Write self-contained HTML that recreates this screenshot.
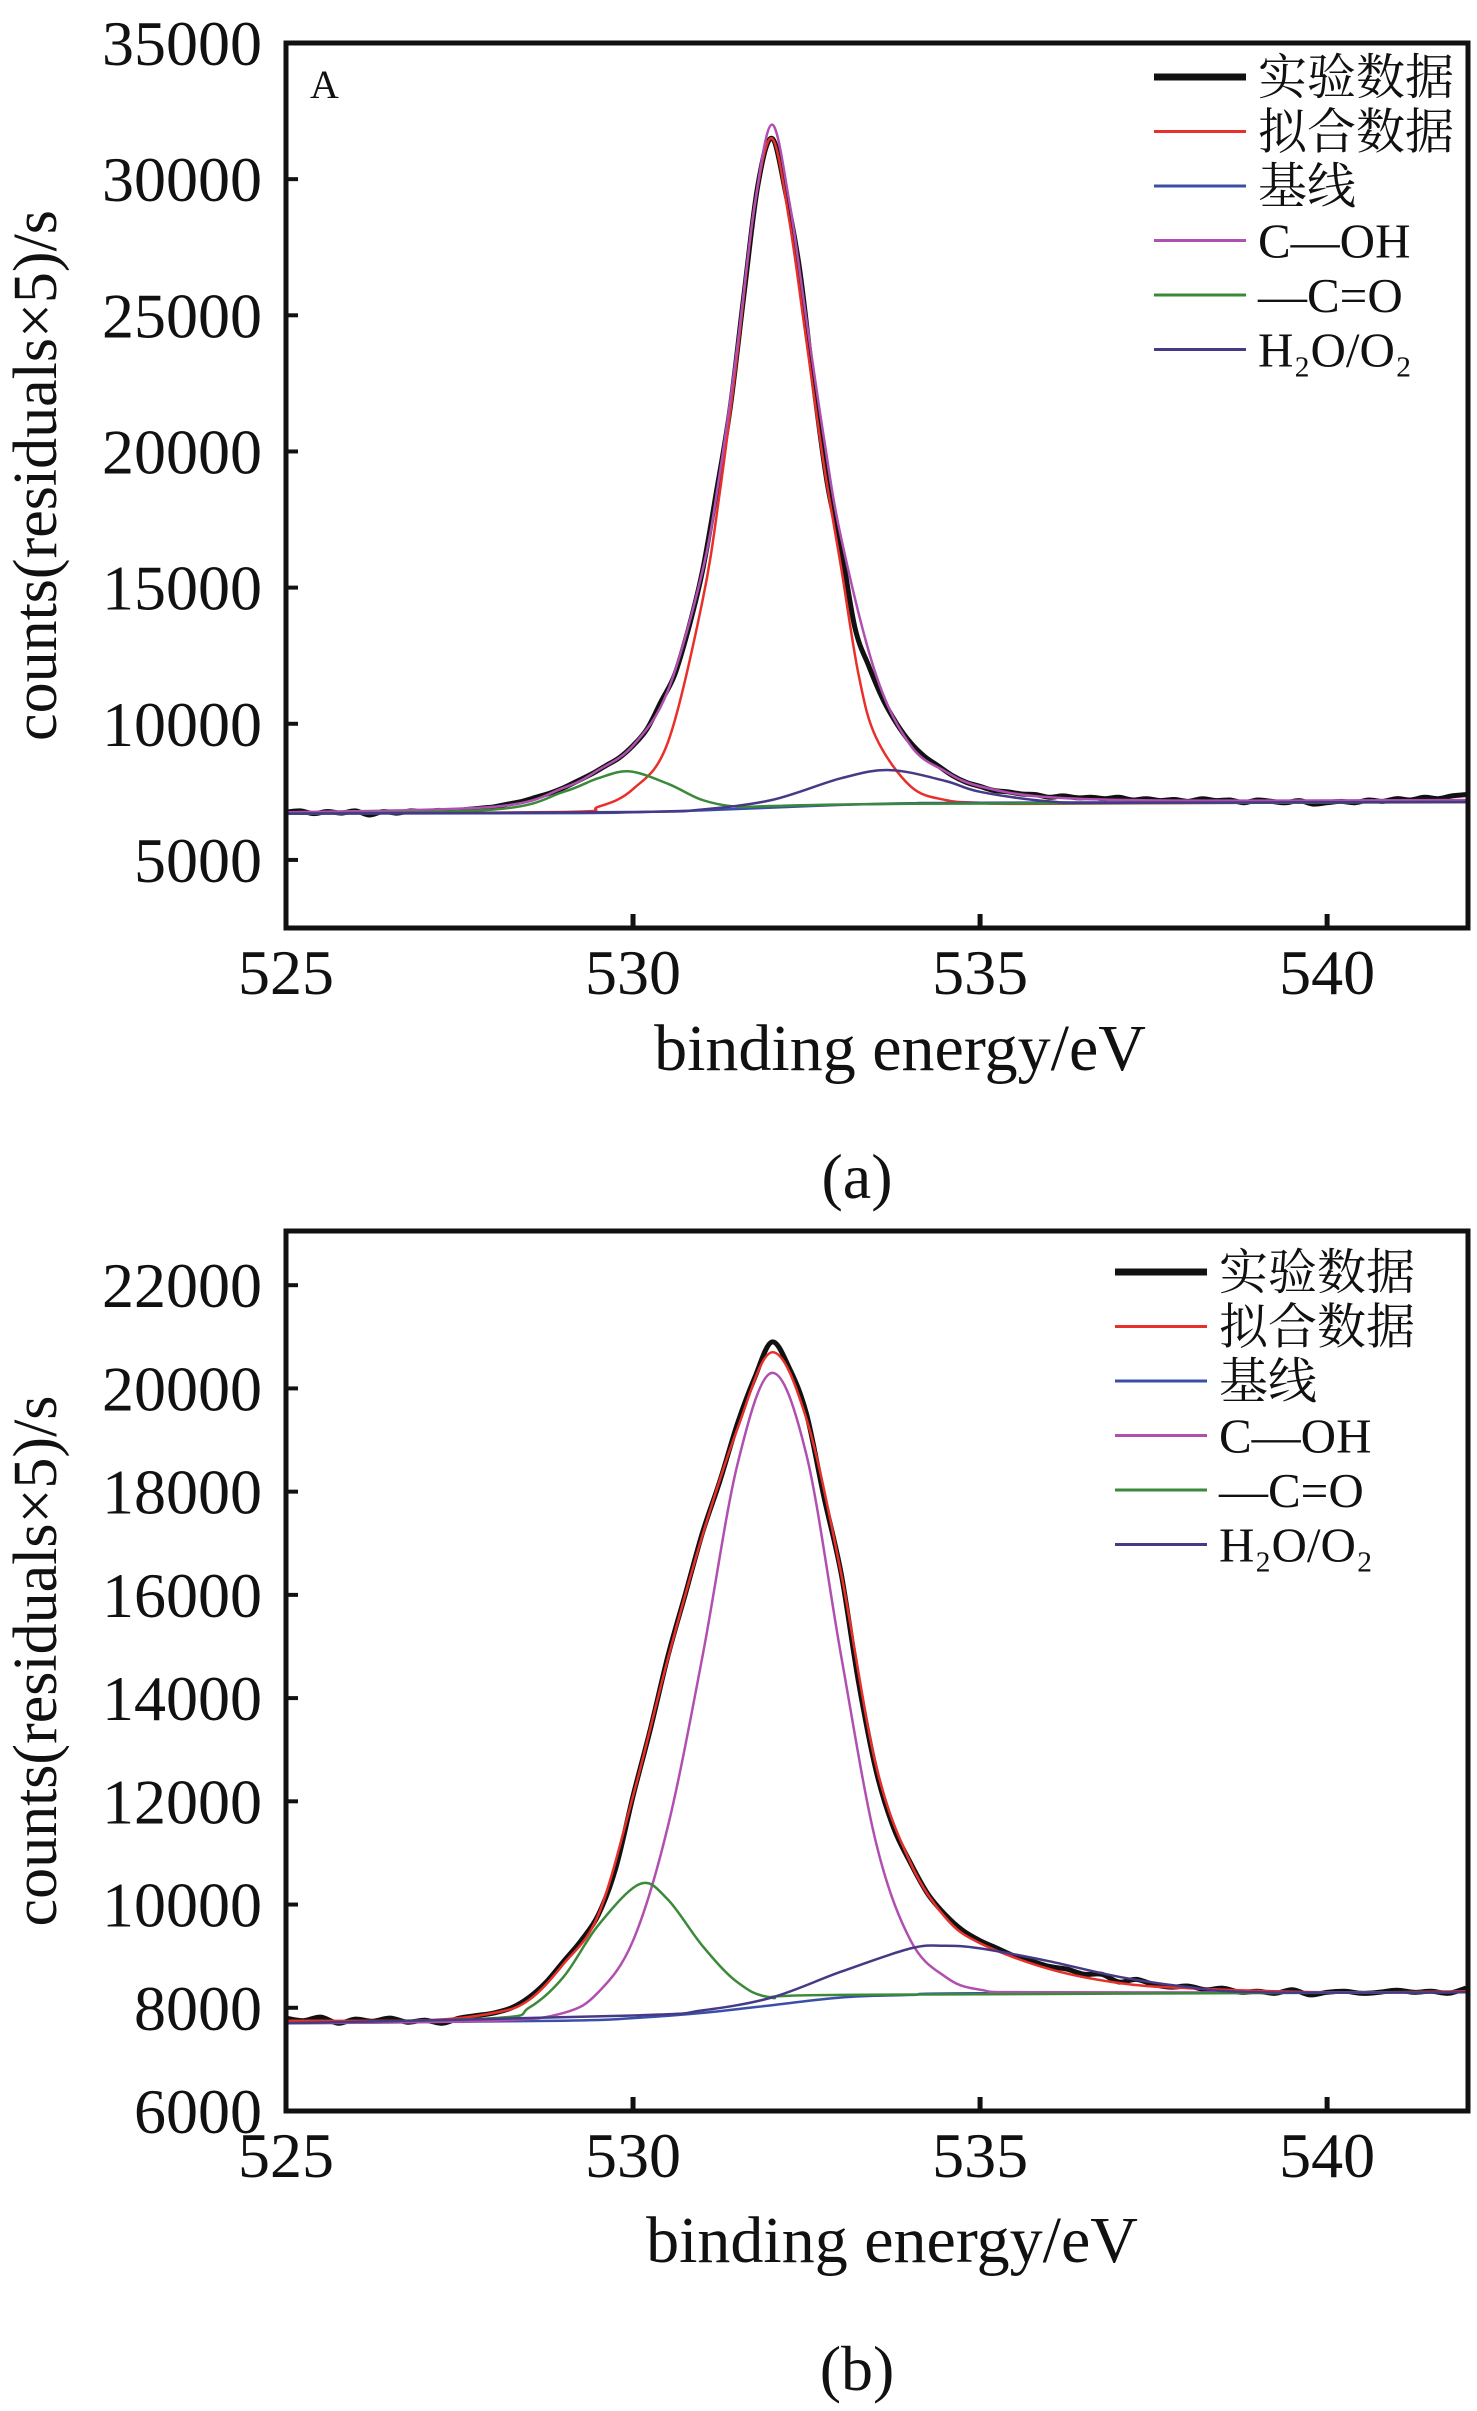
<!DOCTYPE html>
<html><head><meta charset="utf-8"><style>
html,body{margin:0;padding:0;background:#fff}
svg{display:block}
text{font-family:"Liberation Serif","Noto Serif CJK SC",serif;fill:#111}
</style></head><body>
<svg id="fig" width="1477" height="2411" viewBox="0 0 1477 2411" xmlns="http://www.w3.org/2000/svg"></svg>
<script>
// ---------- Chart A data ----------
const aExpStart = 525, aExpStep = 0.2;
const aExp = [6750,6800,6700,6780,6720,6800,6650,6780,6720,6800,6760,6820,6780,6850,6900,
  6950,7050,7150,7300,7450,7650,7900,8150,8450,8750,9200,9800,10800,11800,13500,15600,18500,21600,25800,29800,31500,29500,26700,22500,18800,16400,13500,12100,10900,10000,9300,8800,8450,8100,7850,7700,
  7550,7500,7420,7400,7300,
  7350,7280,7300,7250,7300,7200,7250,7180,7220,7150,7250,7180,7200,7100,7200,7150,7100,7180,7050,7100,7150,7100,7200,7150,7250,7200,7300,7250,7350,7400];
const aFitE = [525,529,529.5,530,530.5,531,531.25,531.5,531.75,532,532.25,532.5,532.75,533,533.25,533.5,534,534.5,535,536,542];
const aFitV = [6700,6760,6950,7600,9300,14500,18500,23500,29000,31500,28500,24000,19500,15700,11800,9500,7700,7200,7100,7060,7150];
const aBaseE = [525,529,530,531,532,533,534,535,542];
const aBaseV = [6700,6720,6750,6820,6920,7020,7080,7100,7150];
const aCohE = [525,528,529,529.5,530,530.5,531,531.25,531.5,531.75,532,532.25,532.5,532.75,533,533.5,534,534.5,535,536,538,542];
const aCohV = [6750,6950,7650,8300,9200,11200,15600,19200,23800,29000,32000,29200,24800,20500,16800,11800,9200,8250,7700,7300,7180,7200];
const aCoE = [525,528,529,529.5,529.95,530.5,531,531.5,532,534,542];
const aCoV = [6700,6850,7500,8000,8250,7800,7200,6950,6980,7060,7120];
const aH2oE = [525,530,531,532,533,533.7,534.5,535,536,537,542];
const aH2oV = [6700,6760,6850,7200,8000,8300,7900,7500,7150,7100,7130];

// ---------- Chart B data ----------
const bExpStart = 525, bExpStep = 0.25;
const bExp = [7800,7750,7820,7700,7780,7740,7800,7720,7760,7700,7800,7850,7900,8000,8200,8500,8900,9300,9800,10700,12100,13400,14800,16000,17200,18200,19300,20200,20900,20400,19500,17900,16400,14300,12600,11500,10800,10200,9800,9500,9300,9150,9000,8900,8800,8750,8650,8650,8500,8550,8450,8400,8420,8350,8380,8300,8320,8280,8350,8250,8300,8320,8280,8300,8340,8300,8320,8280,8380];
const bFitE = [525,527,528,528.5,529,529.5,530,530.5,531,531.5,532,532.5,533,533.5,534,534.5,535,536,537,538,540,542];
const bFitV = [7750,7760,7900,8150,8850,9800,12100,14750,17150,19200,20700,19400,16400,12700,10800,9750,9250,8750,8480,8380,8300,8320];
const bBaseE = [525,529,530,531,532,533,534,535,542];
const bBaseV = [7700,7750,7800,7900,8050,8200,8250,8280,8300];
const bCohE = [525,528,529,529.5,530,530.5,531,531.5,532,532.5,533,533.5,534,534.5,535,536,542];
const bCohV = [7700,7750,7900,8300,9300,11500,14800,18500,20300,18700,14800,11200,9300,8600,8350,8300,8300];
const bCoE = [525,528,528.5,529,529.5,530.1,530.5,531,531.5,532,533,542];
const bCoV = [7700,7800,8000,8600,9600,10400,10100,9200,8500,8200,8250,8300];
const bH2oE = [525,530,531,532,533,534,534.5,535,536,537,538,539,542];
const bH2oV = [7700,7850,7950,8200,8700,9150,9200,9150,8900,8600,8400,8300,8300];

const legendLabels = ["实验数据","拟合数据","基线","C—OH","—C=O","H₂O/O₂"];
const legendColors = ["#111","#e8302a","#3a4fa8","#b04fb0","#3a8a3a","#463a86"];
const xTicks = [525,530,535,540];
const aYTicks = [5000,10000,15000,20000,25000,30000,35000];
const bYTicks = [6000,8000,10000,12000,14000,16000,18000,20000,22000];

const NS = "http://www.w3.org/2000/svg";
const svg = document.getElementById('fig');
function mk(tag, attrs, parent){const e=document.createElementNS(NS,tag);for(const k in attrs)e.setAttribute(k,attrs[k]);(parent||svg).appendChild(e);return e;}

function smoothPath(pts){
  let d="M"+pts[0][0].toFixed(1)+","+pts[0][1].toFixed(1);
  for(let i=0;i<pts.length-1;i++){
    const p0=pts[Math.max(0,i-1)],p1=pts[i],p2=pts[i+1],p3=pts[Math.min(pts.length-1,i+2)];
    const c1x=p1[0]+(p2[0]-p0[0])/6,c1y=p1[1]+(p2[1]-p0[1])/6;
    const c2x=p2[0]-(p3[0]-p1[0])/6,c2y=p2[1]-(p3[1]-p1[1])/6;
    d+=` C${c1x.toFixed(1)},${c1y.toFixed(1)} ${c2x.toFixed(1)},${c2y.toFixed(1)} ${p2[0].toFixed(1)},${p2[1].toFixed(1)}`;
  }
  return d;
}

function chart(cfg){
  const {left,top,right,bottom,xMin,xMax,yMin,yMax,yTicks,id}=cfg;
  const xs=e=>left+(e-xMin)/(xMax-xMin)*(right-left);
  const ys=v=>bottom-(v-yMin)/(yMax-yMin)*(bottom-top);
  const g=mk('g',{});
  
  
  const cp=mk('clipPath',{id:id+'-clip'},g);
  mk('rect',{x:left,y:top,width:right-left,height:bottom-top},cp);
  const plot=mk('g',{'clip-path':`url(#${id}-clip)`},g);
  const series=[
    ['baseline',cfg.baseE,cfg.baseV,legendColors[2],2.5],
    ['c-oh-curve',cfg.cohE,cfg.cohV,legendColors[3],2.5],
    ['c-o-curve',cfg.coE,cfg.coV,legendColors[4],2.5],
    ['h2o-o2-curve',cfg.h2oE,cfg.h2oV,legendColors[5],2.5],
  ];
  const ep=cfg.exp.map((v,i)=>[xs(cfg.expStart+i*cfg.expStep),ys(v)]);
  const expPath=mk('path',{d:smoothPath(ep),fill:'none',stroke:'#111','stroke-width':5,'stroke-linejoin':'round'},plot);
  
  
  const fitP=mk('path',{d:smoothPath(cfg.fitE.map((e,i)=>[xs(e),ys(cfg.fitV[i])])),fill:'none',stroke:legendColors[1],'stroke-width':2.5},plot);
  
  
  series.forEach(s=>{
    const p=mk('path',{d:smoothPath(s[1].map((e,i)=>[xs(e),ys(s[2][i])])),fill:'none',stroke:s[3],'stroke-width':s[4]},plot);
    
    
  });
  const fr=mk('rect',{x:left,y:top,width:right-left,height:bottom-top,fill:'none',stroke:'#111','stroke-width':5},g);
  
  
  xTicks.forEach(t=>{
    const x=xs(t);
    const tk=mk('line',{x1:x,y1:bottom,x2:x,y2:bottom-14,stroke:'#111','stroke-width':5},g);
    
    
    const tl=mk('text',{x:x,y:bottom+66,'text-anchor':'middle','font-size':64},g);
    tl.textContent=t;
    
    
  });
  yTicks.forEach(t=>{
    const y=ys(t);
    const tk=mk('line',{x1:left,y1:y,x2:left+12,y2:y,stroke:'#111','stroke-width':4},g);
    
    
    const tl=mk('text',{x:left-24,y:y+22,'text-anchor':'end','font-size':64},g);
    tl.textContent=t;
    
    
  });
  const xt=mk('text',{x:cfg.xTitleX,y:cfg.xTitleY,'text-anchor':'middle','font-size':66},g);
  xt.textContent='binding energy/eV';
  
  
  const yt=mk('text',{x:0,y:0,'text-anchor':'middle','font-size':62,transform:`translate(56,${(top+bottom)/2-10}) rotate(-90)`},g);
  yt.textContent='counts(residuals×5)/s';
  
  
  const cap=mk('text',{x:857,y:cfg.capY,'text-anchor':'middle','font-size':64},g);
  cap.textContent=cfg.cap;
  
  
  legendLabels.forEach((lab,i)=>{
    const y=cfg.legY+i*cfg.legDy;
    const ln=mk('line',{x1:cfg.legX,y1:y,x2:cfg.legX+92,y2:y,stroke:legendColors[i],'stroke-width':i===0?7:3},g);
    
    
    const tx=mk('text',{x:cfg.legX+104,y:y+17,'font-size':49},g);
    tx.textContent=lab;
    
    
  });
}

chart({id:'a',left:286,top:43,right:1468,bottom:928,xMin:525,xMax:542.03,yMin:2500,yMax:35000,yTicks:aYTicks,
  exp:aExp,expStart:aExpStart,expStep:aExpStep,fitE:aFitE,fitV:aFitV,baseE:aBaseE,baseV:aBaseV,cohE:aCohE,cohV:aCohV,coE:aCoE,coV:aCoV,h2oE:aH2oE,h2oV:aH2oV,
  xTitleX:900,xTitleY:1070,capY:1198,cap:'(a)',legX:1154,legY:77,legDy:54.5});
const aLbl=mk('text',{x:310,y:98,'font-size':40});
aLbl.textContent='A';


chart({id:'b',left:286,top:1231,right:1468,bottom:2111,xMin:525,xMax:542.03,yMin:6000,yMax:23050,yTicks:bYTicks,
  exp:bExp,expStart:bExpStart,expStep:bExpStep,fitE:bFitE,fitV:bFitV,baseE:bBaseE,baseV:bBaseV,cohE:bCohE,cohV:bCohV,coE:bCoE,coV:bCoV,h2oE:bH2oE,h2oV:bH2oV,
  xTitleX:892,xTitleY:2262,capY:2390,cap:'(b)',legX:1115,legY:1272,legDy:54.5});
</script>
</body></html>
